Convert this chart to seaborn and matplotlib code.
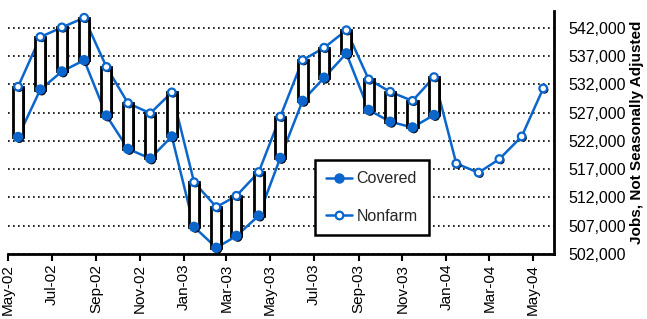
import numpy as np
import pandas as pd
import matplotlib
matplotlib.use("Agg")
import matplotlib.pyplot as plt
import matplotlib.dates as mdates
import matplotlib.patheffects as pe
from matplotlib.lines import Line2D
from matplotlib.ticker import FuncFormatter
import seaborn as sns

# ---- data ----
months = ["2002-05", "2002-06", "2002-07", "2002-08", "2002-09", "2002-10", "2002-11",
          "2002-12", "2003-01", "2003-02", "2003-03", "2003-04", "2003-05", "2003-06",
          "2003-07", "2003-08", "2003-09", "2003-10", "2003-11", "2003-12", "2004-01",
          "2004-02", "2004-03", "2004-04", "2004-05"]
covered = [522700, 531100, 534300, 536300, 526500, 520600, 518900, 522800, 506800, 503100,
           505200, 508800, 519000, 529100, 533200, 537500, 527500, 525400, 524400, 526600]
nonfarm = [531600, 540400, 542100, 543800, 535100, 528700, 526900, 530600, 514700, 510300,
           512300, 516500, 526300, 536300, 538500, 541600, 532900, 530700, 529100, 533300,
           518000, 516400, 518800, 522800, 531300]
yticks = [502000, 507000, 512000, 517000, 522000, 527000, 532000, 537000, 542000]
series_names = ["Covered", "Nonfarm"]
y_label = "Jobs, Not Seasonally Adjusted"

# ---- style ----
sns.set_theme(style="white")
plt.rcParams["font.family"] = ["Liberation Sans", "DejaVu Sans"]
blue = "#0A66CC"

dates = pd.to_datetime(months) + pd.Timedelta(days=14)
n = len(covered)
df = pd.concat([
    pd.DataFrame({"date": dates[:n], "jobs": covered, "series": series_names[0]}),
    pd.DataFrame({"date": dates, "jobs": nonfarm, "series": series_names[1]}),
], ignore_index=True)

fig = plt.figure(figsize=(6.47, 3.19), dpi=100)
ax = fig.add_axes([8 / 647, 65 / 319, 546 / 647, 243 / 319])

ax.grid(axis="y", color="black", linestyle=(0, (1, 2)), linewidth=1.2, zorder=0)
ax.grid(axis="x", visible=False)
ax.set_axisbelow(True)

# lines
sns.lineplot(data=df, x="date", y="jobs", hue="series",
             palette={series_names[0]: blue, series_names[1]: blue},
             linewidth=1.8, legend=False, ax=ax, zorder=2, sort=True)

# up-down bars
shadow = [pe.SimplePatchShadow(offset=(1.3, -1.0), shadow_rgbFace="black", alpha=1), pe.Normal()]
ax.bar(dates[:n], np.array(nonfarm[:n]) - np.array(covered), bottom=covered, width=14,
       color="white", edgecolor="black", linewidth=2, zorder=3, path_effects=shadow)

# markers
mshadow = [pe.SimplePatchShadow(offset=(1.0, -1.0), shadow_rgbFace="black", alpha=1), pe.Normal()]
ax.plot(dates[:n], covered, ls="none", marker="o", ms=6.5, mfc=blue, mec=blue,
        zorder=5, path_effects=mshadow)
ax.plot(dates, nonfarm, ls="none", marker="o", ms=5.5, mfc="white", mec=blue, mew=1.6,
        zorder=5, path_effects=mshadow)

# axes
ax.set_xlim(pd.Timestamp("2002-05-01"), pd.Timestamp("2004-05-30"))
ax.set_ylim(502000, 545000)
ax.yaxis.tick_right()
ax.yaxis.set_label_position("right")
ax.set_yticks(yticks)
ax.yaxis.set_major_formatter(FuncFormatter(lambda v, p: f"{int(v):,}"))
ax.xaxis.set_major_locator(mdates.MonthLocator(bymonth=[1, 3, 5, 7, 9, 11]))
ax.xaxis.set_major_formatter(mdates.DateFormatter("%b-%y"))
ax.tick_params(axis="y", length=0, pad=10, labelsize=11.5, colors="black",
               left=False, right=False, labelleft=False, labelright=True)
ax.tick_params(axis="x", length=5, width=1.5, direction="out", pad=2, labelsize=11,
               rotation=90, colors="black", bottom=True)
for s in ["top", "left"]:
    ax.spines[s].set_visible(False)
for s in ["bottom", "right"]:
    ax.spines[s].set_visible(True)
    ax.spines[s].set_color("black")
    ax.spines[s].set_linewidth(2)
ax.set_xlabel("")
ax.set_ylabel(y_label, fontweight="bold", fontsize=11, labelpad=3, color="black")

handles = [
    Line2D([], [], color=blue, lw=1.8, marker="o", ms=6.5, mfc=blue, mec=blue),
    Line2D([], [], color=blue, lw=1.8, marker="o", ms=5.5, mfc="white", mec=blue, mew=1.6),
]
leg = ax.legend(handles, series_names, loc="upper left", bbox_to_anchor=(0.562, 0.387),
                borderaxespad=0, frameon=True, fancybox=False, edgecolor="black",
                framealpha=1, fontsize=11.5, labelspacing=1.4, handlelength=1.6,
                handletextpad=0.3, borderpad=0.7)
leg.get_frame().set_linewidth(1.8)
leg.set_zorder(6)

fig.savefig("out.png", dpi=100)
